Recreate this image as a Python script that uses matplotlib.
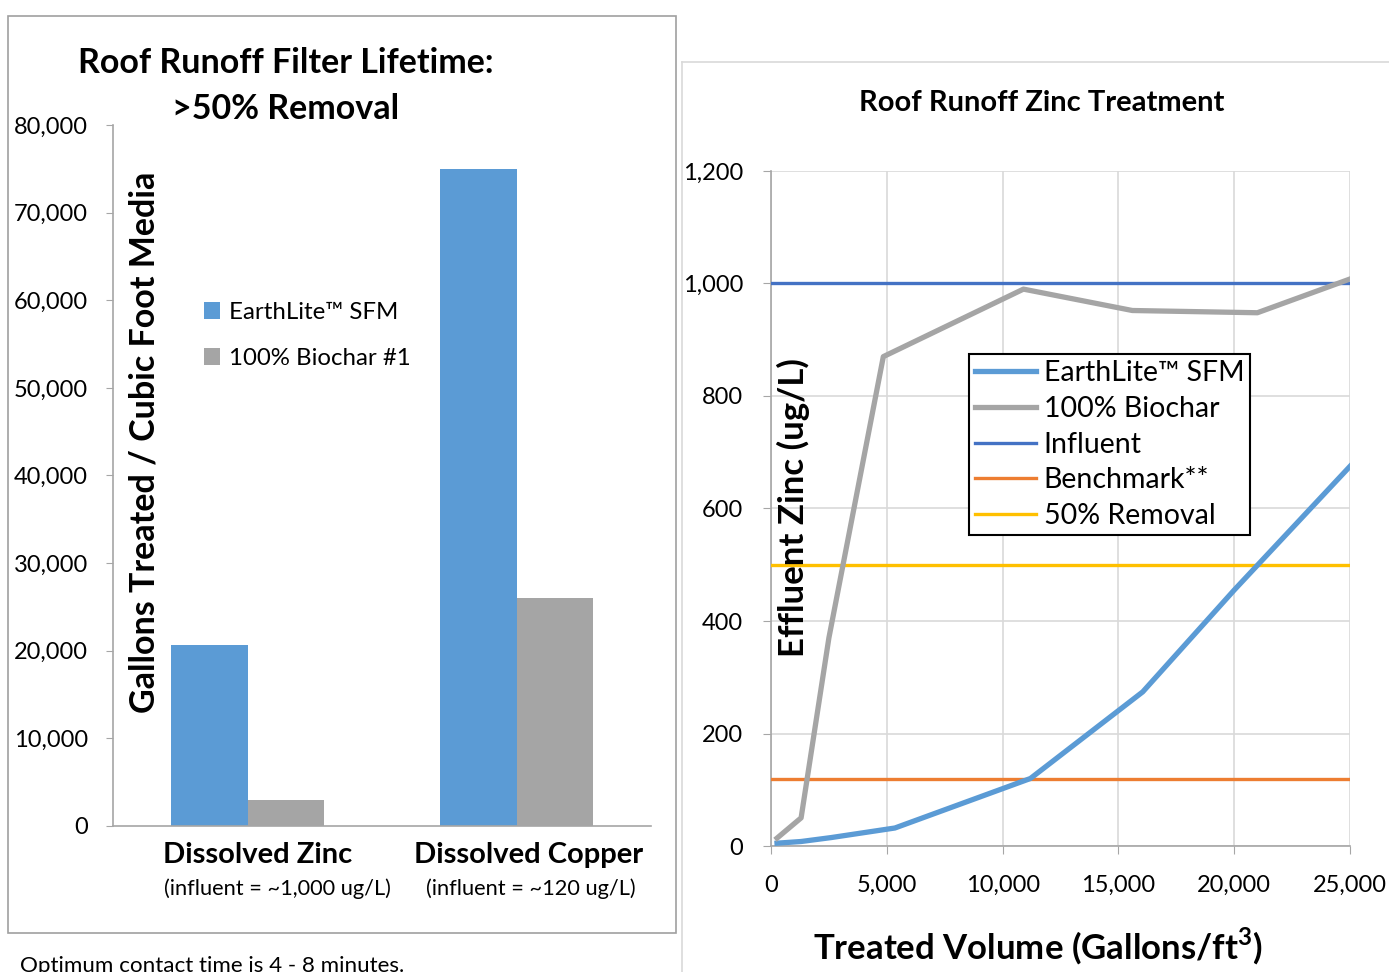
import numpy as np
import matplotlib
matplotlib.use('Agg')
import matplotlib.pyplot as plt
from matplotlib.patches import Rectangle
from matplotlib.lines import Line2D
from matplotlib.ticker import FuncFormatter

plt.rcParams['font.family'] = ['Lato', 'DejaVu Sans']

# Left panel: filter lifetime bars
categories = ['Dissolved Zinc', 'Dissolved Copper']
category_notes = ['(influent = ~1,000 ug/L)', '(influent = ~120 ug/L)']
earthlite_gallons = [20600, 75000]
biochar_gallons = [3000, 26000]

# Right panel: effluent zinc curves
earthlite_volume = [260, 1300, 2600, 5350, 11200, 16050, 20000, 25000]
earthlite_zinc = [5, 8, 15, 32, 120, 274, 455, 675]
biochar_volume = [260, 1300, 2500, 4850, 10900, 15600, 21000, 25000]
biochar_zinc = [14, 50, 370, 870, 990, 952, 948, 1008]
influent_level = 1000
benchmark_level = 120
removal_level = 500

BLUE = '#5B9BD5'
GRAY = '#A5A5A5'
AXIS = '#A6A6A6'
GRID = '#D9D9D9'

fig = plt.figure(figsize=(13.89, 9.72), dpi=100)
W, H = 1389, 972


def fx(px):
    return px / W


def fy(py):
    return 1 - py / H


# panel frames
fig.patches.append(Rectangle((fx(8), fy(933)), fx(668), 917 / H, transform=fig.transFigure,
                             fill=False, edgecolor='#A0A0A0', linewidth=1.2))
fig.add_artist(Line2D([fx(682), 1.0], [fy(62), fy(62)], transform=fig.transFigure,
                      color=GRID, linewidth=1.2))
fig.add_artist(Line2D([fx(682), fx(682)], [fy(62), 0.0], transform=fig.transFigure,
                      color=GRID, linewidth=1.2))

# ---- left bar chart ----
ax1 = fig.add_axes([fx(113), fy(826), fx(538), 701 / H])
x = np.arange(len(categories))
bw = 0.285
ax1.bar(x - bw / 2, earthlite_gallons, bw, color=BLUE, label='EarthLite\u2122 SFM')
ax1.bar(x + bw / 2, biochar_gallons, bw, color=GRAY, label='100% Biochar #1')
ax1.set_xlim(-0.5, 1.5)
ax1.set_ylim(0, 80000)
ax1.set_yticks(np.arange(0, 80001, 10000))
ax1.yaxis.set_major_formatter(FuncFormatter(lambda v, p: f'{int(v):,}'))
ax1.set_xticks([])
for s in ['top', 'right']:
    ax1.spines[s].set_visible(False)
for s in ['left', 'bottom']:
    ax1.spines[s].set_color(AXIS)
    ax1.spines[s].set_linewidth(1.2)
ax1.tick_params(axis='y', direction='out', length=5, color=AXIS, labelsize=17, pad=13)
# category labels sit slightly right of the bar groups, like in the original
label_shift = [0.037, 0.045]
note_shift = [0.11, 0.052]
for i, (cat, note) in enumerate(zip(categories, category_notes)):
    ax1.text(i + label_shift[i], -3300, cat, ha='center', va='center', fontsize=21,
             fontweight='bold')
    ax1.text(i + note_shift[i], -7200, note, ha='center', va='center', fontsize=15.7)
ax1.legend(loc='upper left', bbox_to_anchor=(fx(182), fy(280)), bbox_transform=fig.transFigure,
           frameon=False, fontsize=17.3, handlelength=0.7, handleheight=0.7,
           handletextpad=0.35, labelspacing=1.05)

fig.text(fx(286), fy(86), 'Roof Runoff Filter Lifetime:\n>50% Removal', ha='center', va='center',
         fontsize=24.5, fontweight='bold', linespacing=1.55)
fig.text(fx(145), fy(442), 'Gallons Treated / Cubic Foot Media', ha='center', va='center',
         rotation=90, fontsize=24.5, fontweight='bold')

# ---- right line chart ----
ax2 = fig.add_axes([fx(771), fy(846), fx(579), 675 / H])
ax2.plot(earthlite_volume, earthlite_zinc, color=BLUE, linewidth=3.8, label='EarthLite\u2122 SFM',
         solid_joinstyle='round', zorder=4)
ax2.plot(biochar_volume, biochar_zinc, color=GRAY, linewidth=3.8, label='100% Biochar',
         solid_joinstyle='round', zorder=4)
ax2.axhline(influent_level, color='#4472C4', linewidth=2.4, label='Influent', zorder=3)
ax2.axhline(benchmark_level, color='#ED7D31', linewidth=2.4, label='Benchmark**', zorder=3)
ax2.axhline(removal_level, color='#FFC000', linewidth=2.4, label='50% Removal', zorder=3)
ax2.set_xlim(0, 25000)
ax2.set_ylim(0, 1200)
ax2.set_xticks(np.arange(0, 25001, 5000))
ax2.set_yticks(np.arange(0, 1201, 200))
fmt = FuncFormatter(lambda v, p: f'{int(v):,}')
ax2.xaxis.set_major_formatter(fmt)
ax2.yaxis.set_major_formatter(fmt)
ax2.grid(True, color=GRID, linewidth=1.2)
ax2.set_axisbelow(True)
for s in ['top', 'right']:
    ax2.spines[s].set_visible(False)
for s in ['left', 'bottom']:
    ax2.spines[s].set_color(AXIS)
    ax2.spines[s].set_linewidth(1.2)
ax2.tick_params(axis='both', direction='out', length=6, color=AXIS, labelsize=17)
ax2.tick_params(axis='y', pad=14)
ax2.tick_params(axis='x', pad=15)
ax2.legend(loc='upper left', bbox_to_anchor=(fx(969), fy(354)), bbox_transform=fig.transFigure,
           fontsize=20.5, handlelength=2.15, handletextpad=0.25, labelspacing=0.34,
           fancybox=False, edgecolor='black', framealpha=1, borderaxespad=0,
           borderpad=0.22).get_frame().set_linewidth(1.5)

fig.text(fx(1042), fy(103), 'Roof Runoff Zinc Treatment', ha='center', va='center',
         fontsize=21, fontweight='bold')
fig.text(fx(793), fy(508), 'Effluent Zinc (ug/L)', ha='center', va='center', rotation=90,
         fontsize=25, fontweight='bold')
fig.text(fx(1038), fy(946), 'Treated Volume (Gallons/ft$^\\mathregular{3}$)', ha='center',
         va='center', fontsize=25, fontweight='bold')

fig.text(fx(20), fy(966), 'Optimum contact time is 4 - 8 minutes.', ha='left', va='center',
         fontsize=16.1)

fig.savefig('out.png', dpi=100)
